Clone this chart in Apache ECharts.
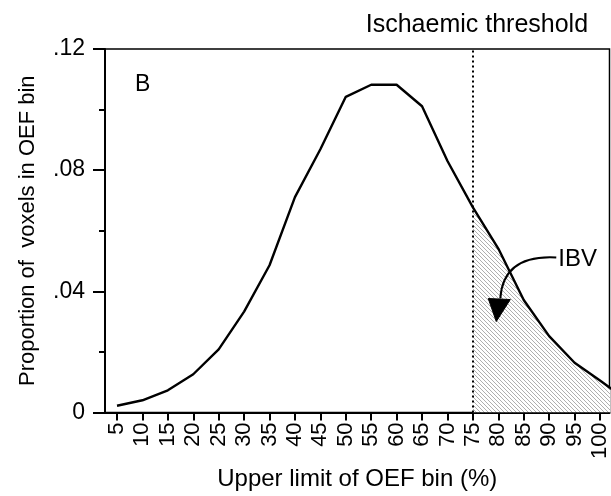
<!DOCTYPE html>
<html>
<head>
<meta charset="utf-8">
<script src="https://cdn.jsdelivr.net/npm/echarts@6/dist/echarts.min.js"></script>
<style>
  html, body { margin: 0; padding: 0; background: #fff; }
  #chart { width: 611px; height: 496px; }
</style>
</head>
<body>
<div id="chart"></div>
<script>
// ---- data ----
const oefBins = [5,10,15,20,25,30,35,40,45,50,55,60,65,70,75,80,85,90,95,100];
const proportion = [0.0022,0.0040,0.0073,0.0126,0.0208,0.0333,0.0486,0.0711,0.0869,0.1042,0.1082,0.1082,0.1011,0.0830,0.0677,0.0541,0.0371,0.0252,0.0164,0.0105];
// the curve runs on past the last labelled bin to the frame edge
const extraBin = 105;
const extraValue = 0.0045;
const thresholdBin = 75;
const xRange = [2.64, 101.87];
const yTickValues = [0, 0.04, 0.08, 0.12];
const yTickText = ['0', '.04', '.08', '.12'];
const panelLabel = 'B';
const thresholdLabel = 'Ischaemic threshold';
const ibvLabel = 'IBV';
const ibvTip = [79.6, 0.03];
const xAxisTitle = 'Upper limit of OEF bin (%)';
const yAxisTitle = 'Proportion of  voxels in OEF bin';

const FONT = '"Liberation Sans", Arial, Helvetica, sans-serif';

// hatch pattern
const pc = document.createElement('canvas');
pc.width = 4; pc.height = 4;
const pctx = pc.getContext('2d');
pctx.fillStyle = '#ffffff';
pctx.fillRect(0, 0, 4, 4);
pctx.strokeStyle = '#9a9a9a';
pctx.lineWidth = 0.8;
for (const k of [-4, 0, 4]) {
  pctx.beginPath();
  pctx.moveTo(k, 0);
  pctx.lineTo(k + 4, 4);
  pctx.stroke();
}

const curve = oefBins.map((b, i) => [b, proportion[i]]).concat([[extraBin, extraValue]]);
const hatched = curve.filter(p => p[0] >= thresholdBin);

const chart = echarts.init(document.getElementById('chart'), null, { renderer: 'canvas' });

chart.setOption({
  animation: false,
  backgroundColor: '#fff',
  textStyle: { fontFamily: FONT, color: '#000' },
  grid: { left: 105, top: 49, right: 1.5, bottom: 81, show: true, borderColor: '#000', borderWidth: 1.5, backgroundColor: 'transparent' },
  xAxis: {
    type: 'value',
    min: xRange[0],
    max: xRange[1],
    name: xAxisTitle,
    nameLocation: 'middle',
    nameGap: 34,
    nameTextStyle: { fontSize: 24, color: '#000', fontFamily: FONT },
    axisLine: { show: true, lineStyle: { color: '#000', width: 2 } },
    axisTick: { show: true, customValues: oefBins, length: 8, lineStyle: { color: '#000', width: 2 } },
    axisLabel: { customValues: oefBins, rotate: 90, margin: 10, fontSize: 22, color: '#000', fontFamily: FONT, showMinLabel: true, showMaxLabel: true },
    splitLine: { show: false }
  },
  yAxis: {
    type: 'value',
    min: 0,
    max: 0.12,
    interval: 0.04,
    name: yAxisTitle,
    nameLocation: 'middle',
    nameGap: 66,
    nameTextStyle: { fontSize: 22, color: '#000', fontFamily: FONT },
    axisLine: { show: true, lineStyle: { color: '#000', width: 2 } },
    axisTick: { show: true, length: 12, lineStyle: { color: '#000', width: 2 } },
    minorTick: { show: true, splitNumber: 2, length: 6, lineStyle: { color: '#000', width: 2 } },
    axisLabel: {
      margin: 20, fontSize: 23, color: '#000', fontFamily: FONT,
      formatter: function (v) {
        for (let i = 0; i < yTickValues.length; i++) {
          if (Math.abs(v - yTickValues[i]) < 1e-9) return yTickText[i];
        }
        return '';
      }
    },
    splitLine: { show: false },
    minorSplitLine: { show: false }
  },
  series: [
    {
      type: 'line',
      data: hatched,
      symbol: 'none',
      clip: true,
      lineStyle: { width: 0, opacity: 0 },
      areaStyle: { color: { image: pc, repeat: 'repeat' }, opacity: 1 },
      z: 1,
      silent: true
    },
    {
      type: 'line',
      data: curve,
      symbol: 'none',
      clip: true,
      lineStyle: { color: '#000', width: 2.4 },
      z: 3,
      markLine: {
        silent: true,
        symbol: ['none', 'none'],
        label: { show: false },
        lineStyle: { color: '#000', width: 2, type: [2, 3] },
        data: [{ xAxis: thresholdBin }]
      }
    }
  ]
});

// annotations placed through the chart's own coordinate system
const top75 = chart.convertToPixel({ xAxisIndex: 0, yAxisIndex: 0 }, [thresholdBin, 0.12]);
const firstTop = chart.convertToPixel({ xAxisIndex: 0, yAxisIndex: 0 }, [oefBins[0], 0.12]);
const tip = chart.convertToPixel({ xAxisIndex: 0, yAxisIndex: 0 }, ibvTip);
const tx = tip[0], ty = tip[1];

chart.setOption({
  graphic: [
    {
      type: 'text',
      x: top75[0] + 4, y: top75[1] - 24,
      style: { text: thresholdLabel, x: 0, y: 0, align: 'center', verticalAlign: 'middle', font: '25px ' + FONT, fill: '#000' }
    },
    {
      type: 'text',
      x: firstTop[0] + 18, y: firstTop[1] + 36,
      style: { text: panelLabel, x: 0, y: 0, align: 'left', verticalAlign: 'middle', font: '23px ' + FONT, fill: '#000' }
    },
    {
      type: 'text',
      x: tx + 62, y: ty - 62,
      style: { text: ibvLabel, x: 0, y: 0, align: 'left', verticalAlign: 'middle', font: '24px ' + FONT, fill: '#000' },
      z: 10
    },
    {
      type: 'bezierCurve',
      shape: { x1: tx + 60, y1: ty - 64, cpx1: tx + 24, cpy1: ty - 66, cpx2: tx + 6, cpy2: ty - 52, x2: tx + 4, y2: ty - 23 },
      style: { stroke: '#000', lineWidth: 2, fill: null },
      z: 10
    },
    {
      type: 'polygon',
      shape: { points: [[tx - 8, ty - 23], [tx + 14, ty - 22], [tx, ty]] },
      style: { fill: '#000', stroke: '#000', lineWidth: 1 },
      z: 10
    }
  ]
});
</script>
</body>
</html>
